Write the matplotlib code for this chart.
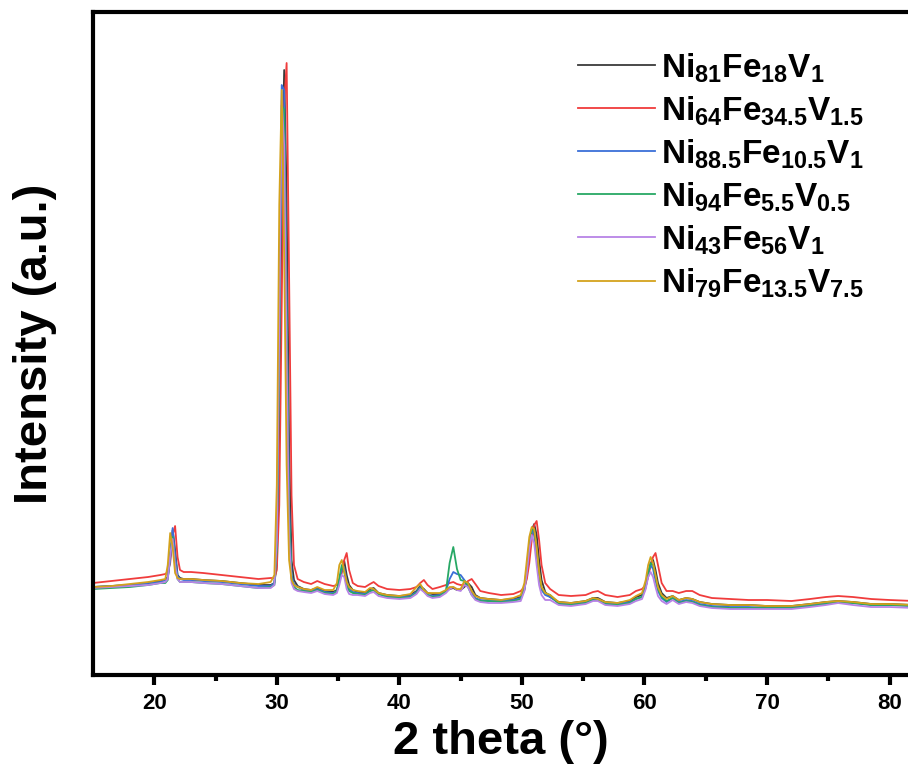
import matplotlib
matplotlib.use("Agg")
import matplotlib.pyplot as plt

plt.rcParams["font.family"] = ["Liberation Sans", "DejaVu Sans"]
plt.rcParams["font.weight"] = "bold"
plt.rcParams["mathtext.fontset"] = "custom"
plt.rcParams["mathtext.rm"] = "Liberation Sans:bold"
plt.rcParams["mathtext.bf"] = "Liberation Sans:bold"

# 2 theta grid shared by all patterns
two_theta = [15, 16.5, 18, 19.5, 20.5,
             20.9, 21.1, 21.3, 21.5, 21.7, 21.9, 22.1, 22.4,
             23, 24, 25.5, 27, 28.5, 29.5,
             29.8, 30.0, 30.2, 30.4, 30.6, 30.8, 31.0, 31.2, 31.4, 31.7,
             32.2, 32.8, 33.3, 33.9, 34.6,
             34.9, 35.1, 35.3, 35.5, 35.7, 35.9, 36.2,
             36.6, 37.2, 37.6, 37.9, 38.3, 39.0, 40.0, 40.9,
             41.4, 41.7, 42.0, 42.3, 42.7,
             43.3, 43.8, 44.1, 44.4, 44.7, 45.0, 45.3, 45.6, 45.9, 46.2, 46.6,
             47.3, 48.3, 49.3,
             49.9, 50.2, 50.4, 50.6, 50.8, 51.0, 51.2, 51.4, 51.6, 51.9, 52.3,
             53.0, 54.0, 55.2, 55.8, 56.2, 56.8, 57.8, 58.8, 59.3,
             59.8, 60.1, 60.3, 60.5, 60.7, 60.9, 61.1, 61.4, 61.8,
             62.3, 62.8, 63.4, 63.9, 64.5, 65.5, 67, 68.5, 70, 72, 73.5, 74.8, 75.8, 77, 78.5, 80, 82]

ni81 = [88, 89, 90, 92, 94,
        95, 98, 118, 145, 125, 100, 97, 96,
        96, 95, 94, 92, 90, 90,
        92, 110, 250, 480, 605, 480, 230, 115, 95, 89,
        86, 85, 87, 84, 83,
        85, 93, 105, 114, 100, 90, 85,
        83, 82, 86, 87, 82, 80, 79, 80,
        84, 89, 86, 82, 81,
        81, 84, 86, 87, 85, 85, 88, 92, 88, 80, 77,
        76, 75, 76,
        78, 85, 100, 125, 145, 151, 140, 115, 95, 83, 78,
        73, 72, 74, 77, 77, 73, 72, 74, 78,
        80, 88, 100, 112, 115, 105, 92, 82, 77,
        79, 75, 77, 76, 73, 71, 70, 70, 69, 69, 71, 73, 74, 73, 71, 71, 70]

ni64 = [92, 94, 96, 98, 100,
        101, 103, 112, 140, 149, 118, 105, 103,
        103, 102, 100, 98, 96, 97,
        97, 105, 170, 370, 570, 612, 400, 180, 110, 96,
        93, 91, 94, 91, 89,
        90, 94, 102, 115, 122, 105, 92,
        89, 88, 91, 93, 89, 86, 85, 86,
        88, 92, 95, 90, 86,
        88, 90, 92, 93, 91, 90, 90, 94, 96, 91, 84,
        82, 80, 81,
        84, 88, 96, 112, 135, 150, 154, 135, 110, 92, 86,
        80, 79, 80, 83, 84, 80, 78, 80, 84,
        86, 90, 98, 110, 118, 122, 110, 92, 84,
        84, 82, 84, 84, 80, 77, 76, 75, 75, 74, 76, 78, 79, 78, 76, 75, 74]

ni88 = [88, 89, 90, 92, 93,
        95, 97, 115, 147, 120, 99, 96, 95,
        95, 94, 93, 91, 89, 89,
        92, 130, 330, 590, 585, 380, 170, 100, 91, 88,
        85, 84, 86, 83, 82,
        84, 94, 106, 107, 94, 86, 83,
        82, 81, 84, 85, 81, 79, 78, 79,
        83, 88, 85, 80, 79,
        80, 84, 96, 103, 101, 100, 95, 90, 82, 77, 75,
        74, 74, 75,
        77, 88, 108, 132, 145, 140, 118, 98, 85, 80, 78,
        72, 71, 73, 76, 76, 72, 71, 73, 76,
        78, 88, 102, 110, 106, 94, 84, 77, 73,
        77, 73, 75, 74, 71, 69, 68, 68, 67, 68, 70, 72, 73, 72, 70, 70, 69]

ni94 = [86, 87, 88, 90, 92,
        92, 95, 122, 138, 112, 96, 93, 93,
        93, 92, 91, 89, 87, 88,
        90, 125, 320, 570, 565, 360, 160, 97, 88, 85,
        84, 83, 85, 82, 81,
        84, 97, 110, 103, 90, 84, 82,
        81, 80, 84, 85, 81, 78, 77, 78,
        82, 87, 84, 80, 78,
        79, 84, 112, 128, 106, 95, 94, 88, 80, 76, 74,
        74, 73, 74,
        76, 86, 104, 130, 146, 145, 125, 102, 87, 82, 80,
        71, 70, 72, 75, 75, 71, 70, 72, 76,
        78, 88, 102, 112, 110, 98, 86, 78, 74,
        77, 72, 74, 73, 70, 68, 67, 67, 67, 67, 69, 71, 73, 72, 70, 70, 69]

ni43 = [87, 88, 89, 90, 92,
        93, 96, 120, 136, 110, 96, 93, 93,
        93, 92, 91, 89, 87, 87,
        90, 135, 350, 575, 530, 320, 140, 92, 86, 84,
        83, 82, 84, 81, 80,
        82, 90, 100, 98, 86, 81, 80,
        80, 79, 82, 83, 79, 77, 76, 77,
        81, 86, 83, 79, 77,
        78, 82, 86, 88, 85, 84, 90, 88, 80, 75, 73,
        72, 72, 73,
        74, 84, 102, 126, 140, 132, 110, 90, 80, 75, 75,
        70, 69, 71, 74, 74, 70, 69, 71, 74,
        76, 86, 98, 103, 98, 88, 79, 74, 71,
        75, 71, 73, 72, 69, 67, 66, 66, 66, 66, 68, 70, 72, 70, 68, 68, 67]

ni79 = [88, 89, 91, 93, 95,
        96, 110, 142, 128, 102, 97, 96, 96,
        96, 95, 94, 92, 91, 93,
        100, 190, 470, 585, 420, 210, 115, 95, 90, 88,
        86, 85, 88, 85, 85,
        92, 110, 115, 104, 93, 88, 85,
        84, 83, 87, 86, 82, 80, 79, 81,
        88, 91, 85, 82, 82,
        82, 85, 88, 88, 86, 86, 94, 92, 84, 79, 77,
        76, 75, 77,
        80, 92, 115, 138, 148, 146, 128, 104, 88, 82, 80,
        73, 72, 74, 77, 76, 73, 72, 75, 79,
        82, 95, 110, 118, 112, 100, 88, 80, 76,
        79, 75, 77, 76, 73, 71, 70, 70, 69, 69, 71, 73, 74, 73, 71, 71, 70]

labels = [r"Ni$_{81}$Fe$_{18}$V$_{1}$",
          r"Ni$_{64}$Fe$_{34.5}$V$_{1.5}$",
          r"Ni$_{88.5}$Fe$_{10.5}$V$_{1}$",
          r"Ni$_{94}$Fe$_{5.5}$V$_{0.5}$",
          r"Ni$_{43}$Fe$_{56}$V$_{1}$",
          r"Ni$_{79}$Fe$_{13.5}$V$_{7.5}$"]
colors = ["#3a3a3a", "#f03c3c", "#3a6fd8", "#27a865", "#b883e6", "#d4a21c"]
series = [ni81, ni64, ni88, ni94, ni43, ni79]

fig = plt.figure(figsize=(9.08, 7.80), dpi=100)
ax = fig.add_axes([0.1024, 0.1346, 0.8976, 0.85])

for y, c, lab in zip(series, colors, labels):
    ax.plot(two_theta, y, color=c, lw=1.3, label=lab)

ax.set_xlim(15, 81.5)
ax.set_ylim(0, 663)
ax.set_xticks([20, 30, 40, 50, 60, 70, 80])
ax.set_xticks([25, 35, 45, 55, 65, 75], minor=True)
ax.set_yticks([])
for s in ["left", "top", "bottom"]:
    ax.spines[s].set_linewidth(3)
ax.spines["right"].set_visible(False)
ax.tick_params(axis="x", which="major", length=7, width=3, labelsize=16, pad=6)
ax.tick_params(axis="x", which="minor", length=4, width=3)
for t in ax.get_xticklabels():
    t.set_fontweight("bold")

ax.set_xlabel("2 theta (°)", fontsize=34, fontweight="bold", labelpad=4)
ax.set_ylabel("Intensity (a.u.)", fontsize=34, fontweight="bold", labelpad=26)

ax.legend(loc="upper left", bbox_to_anchor=(578 / 908, 1 - 51 / 780),
          bbox_transform=fig.transFigure, frameon=False, fontsize=24,
          handlelength=2.3, handletextpad=0.2, labelspacing=0.28,
          borderpad=0, borderaxespad=0)

fig.savefig("out.png", dpi=100)
